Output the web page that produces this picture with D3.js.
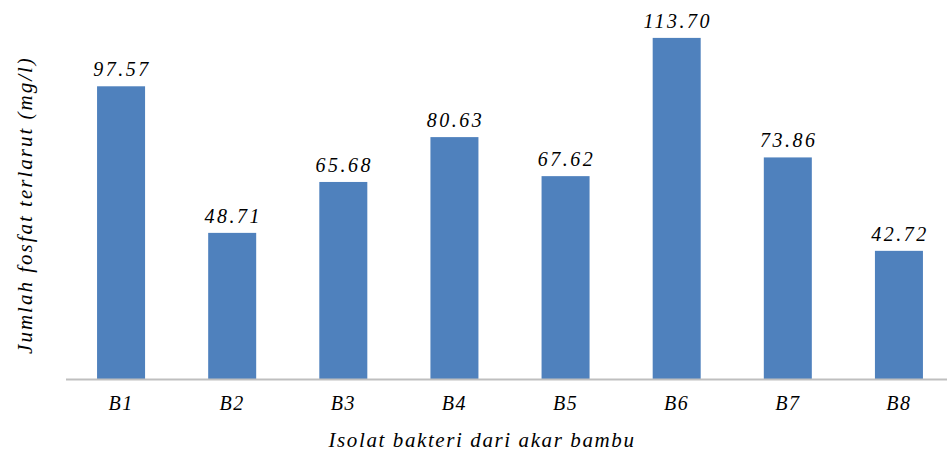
<!DOCTYPE html>
<html>
<head>
<meta charset="utf-8">
<script src="https://cdn.jsdelivr.net/npm/d3@7"></script>
<style>
  body { margin: 0; background: #fff; }
  text { font-family: "Liberation Serif", serif; font-style: italic; fill: #000; }
</style>
</head>
<body>
<div id="chart"></div>
<script>
// data
const categories = ["B1", "B2", "B3", "B4", "B5", "B6", "B7", "B8"];
const values = [97.57, 48.71, 65.68, 80.63, 67.62, 113.70, 73.86, 42.72];
const valueLabels = ["97.57", "48.71", "65.68", "80.63", "67.62", "113.70", "73.86", "42.72"];

const width = 947, height = 456;

const svg = d3.select("#chart")
    .append("svg")
    .attr("width", width)
    .attr("height", height);

// scales
let x = d3.scaleBand()
    .domain(categories)
    .range([65.5, 954.5])
    .paddingInner(0.568)
    .paddingOuter(0.284);

let y = d3.scaleLinear()
    .domain([0, 120])
    .range([379, 19]);

// bars
svg.selectAll(".bar")
    .data(values)
    .enter()
    .append("rect")
    .attr("class", "bar")
    .attr("x", (d, i) => x(categories[i]))
    .attr("y", d => y(d))
    .attr("width", x.bandwidth())
    .attr("height", d => y(0) - y(d))
    .attr("fill", "#4f81bd");

// value labels
svg.selectAll(".val")
    .data(values)
    .enter()
    .append("text")
    .attr("class", "val")
    .attr("x", (d, i) => x(categories[i]) + x.bandwidth() / 2 + 1)
    .attr("y", d => y(d) - 10)
    .attr("text-anchor", "middle")
    .attr("font-size", "20px")
    .attr("letter-spacing", "2.5px")
    .text((d, i) => valueLabels[i]);

// x axis
let xAxis = svg.append("g")
    .attr("transform", "translate(0,379)")
    .call(d3.axisBottom(x).tickSize(0).tickPadding(17));
xAxis.select(".domain").attr("stroke", "#bfbfbf").attr("stroke-width", 2);
xAxis.selectAll("text")
    .attr("font-size", "20px")
    .attr("letter-spacing", "1.5px")
    .style("font-family", "Liberation Serif, serif")
    .style("font-style", "italic");

// axis titles
svg.append("text")
    .attr("x", 482)
    .attr("y", 447)
    .attr("text-anchor", "middle")
    .attr("font-size", "21px")
    .attr("letter-spacing", "1.6px")
    .text("Isolat bakteri dari akar bambu");

svg.append("text")
    .attr("transform", "translate(32,205) rotate(-90)")
    .attr("text-anchor", "middle")
    .attr("font-size", "21px")
    .attr("letter-spacing", "2px")
    .text("Jumlah fosfat terlarut (mg/l)");
</script>
</body>
</html>
